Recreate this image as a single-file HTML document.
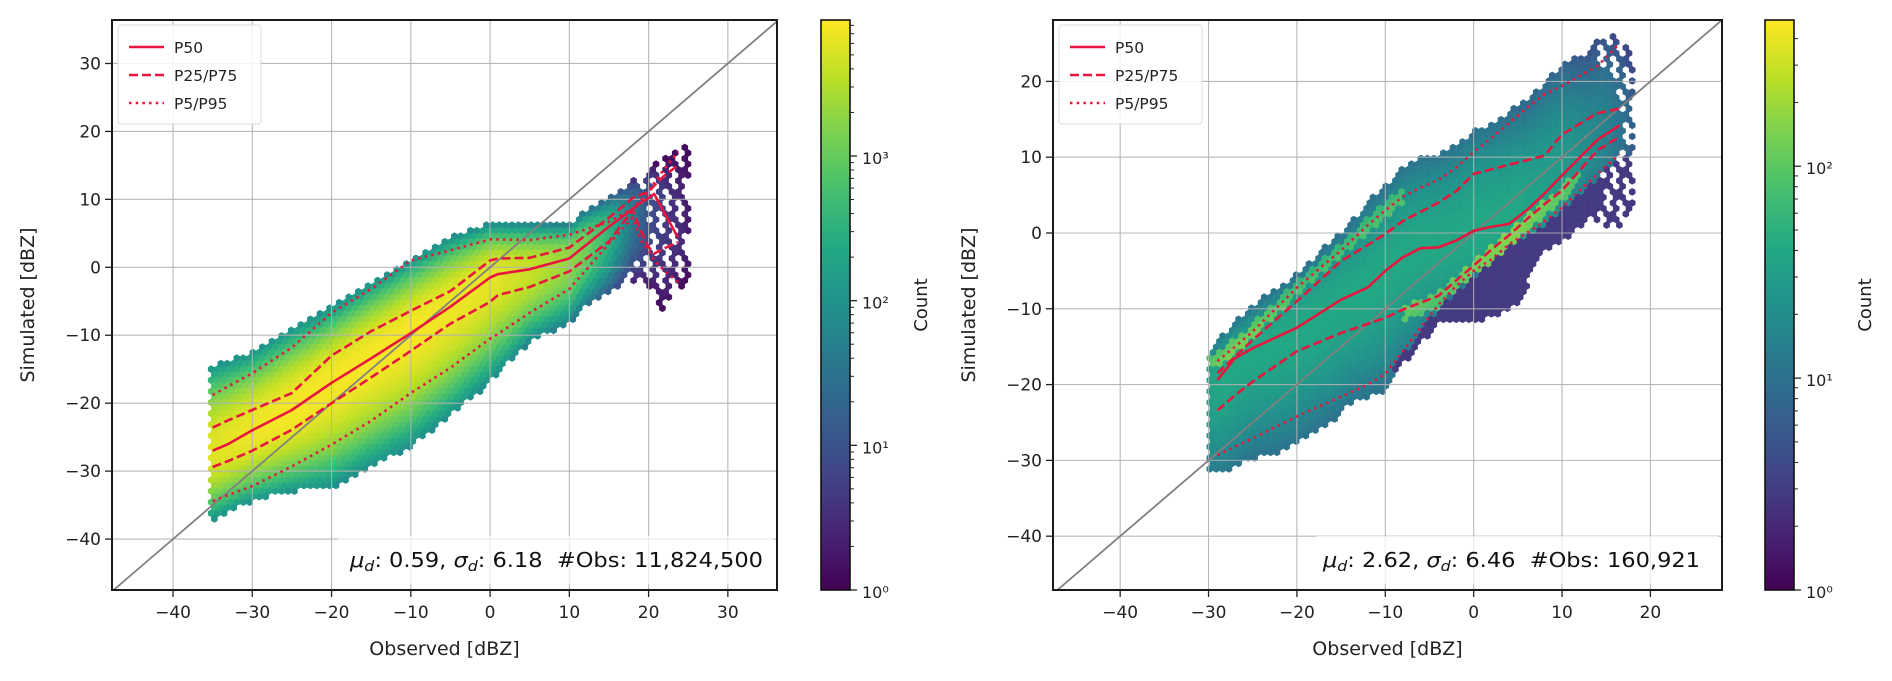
<!DOCTYPE html>
<html><head><meta charset="utf-8">
<style>
html,body{margin:0;padding:0;background:#fff;}
svg{display:block;font-family:"DejaVu Sans","Liberation Sans",sans-serif;}
</style></head>
<body>
<svg id="fig" width="1892" height="681" viewBox="0 0 1892 681" xmlns="http://www.w3.org/2000/svg">
<defs>
<linearGradient id="viridis" x1="0" y1="1" x2="0" y2="0">
<stop offset="0" stop-color="#440154"/><stop offset="0.1" stop-color="#482475"/><stop offset="0.2" stop-color="#414487"/><stop offset="0.3" stop-color="#355f8d"/><stop offset="0.4" stop-color="#2a788e"/><stop offset="0.5" stop-color="#21918c"/><stop offset="0.6" stop-color="#22a884"/><stop offset="0.7" stop-color="#44bf70"/><stop offset="0.8" stop-color="#7ad151"/><stop offset="0.9" stop-color="#bddf26"/><stop offset="1" stop-color="#fde725"/>
</linearGradient>
<clipPath id="clipL"><rect x="112" y="20" width="665" height="570"/></clipPath>
<clipPath id="clipR"><rect x="1053" y="20" width="669" height="570"/></clipPath>
</defs>
</svg>
<script>
// ===== Left panel data =====
const leftCloudX = [-35.5,-33,-30,-25,-20,-15,-10,-5,0,5,10,12,15,18,20,22,24,25];
const leftCloudHi = [-14.6,-13.7,-12.5,-9,-5.7,-2,1.3,4.5,6.4,6.4,6.4,8.5,10.5,13,14.5,16,17.5,18];
const leftCloudLo = [-37.5,-36,-34.5,-33,-32.5,-29.5,-26.5,-22,-17,-11,-8.5,-6,-4,-2,-3,-7,-3,-2];
const leftPeakLog = [3.75,3.8,3.85,3.9,3.9,3.9,3.9,3.85,3.8,3.6,3.3,3.1,2.6,1.6,1.0,0.7,0.5,0.3];
const leftEdgeLog = [2.0,2.0,2.0,2.0,1.9,1.9,1.9,1.9,1.9,1.8,1.6,1.4,1.0,0.4,0.2,0.1,0.1,0.1];
const leftPX  = [-35,-33,-30,-25,-20,-15,-10,-5,0,1,5,10,15,18,19,20,20.7,22,23.7];
const leftP50 = [-27,-26,-24,-21,-17,-13.4,-9.7,-5.8,-1.5,-1,-0.3,1.3,6,8.6,9.5,10.2,10.8,8,4.4];
const leftP75 = [-23.6,-22.5,-21,-18.5,-13,-9.4,-6.4,-3.5,1,1.3,1.4,2.9,7.3,10.2,10.7,11.1,12,13.5,15];
const leftP25 = [-29.4,-28.5,-27,-23.9,-20,-16.2,-12.3,-8.3,-5.1,-4.1,-2.9,-0.6,3.8,8.4,5.4,3,2,2.8,3.7];
const leftP95 = [-18.8,-17.5,-15.6,-11.8,-6.7,-3.2,1,2.5,4.1,4.1,4,4.8,6.7,8.7,9.9,11.1,12.4,14.5,17];
const leftP5  = [-34.4,-33.5,-32.2,-29.3,-26.1,-22.6,-18.5,-14.8,-10.5,-9.8,-6.7,-3.2,3.5,7.3,4,2.5,1,-0.5,-2.2];
const leftXTicks = [-40,-30,-20,-10,0,10,20,30];
const leftYTicks = [-40,-30,-20,-10,0,10,20,30];
const leftCbarDecades = [0,1,2,3];
const leftCbarMaxLog = 3.94;
const leftStats = ["0.59","6.18","11,824,500"];

// ===== Right panel data =====
const rightCloudX = [-30,-28.5,-27,-25,-22.5,-20,-18,-16,-14,-12,-10,-8,-6,-4,-2,0,2,4,5.2,6,8,10,13,15,17,18];
const rightCloudHi = [-15.2,-13.6,-11.6,-9.6,-7.4,-5.4,-3.2,-0.8,1.2,4.3,6.1,8.9,10,10.5,11.8,13.5,14.5,16,17,17.5,19.9,22.4,23.7,26.8,26,24];
const rightCloudLo = [-31.8,-31.5,-31.1,-29.8,-29.1,-28,-26.2,-24.9,-22.7,-21.8,-20.9,-17.4,-14.7,-12,-11.4,-11.6,-11.2,-9.9,-9.5,-7,-2.5,-1.5,2,0.7,1,4];
const rightPeakLog = [1.55,1.6,1.6,1.6,1.6,1.6,1.6,1.6,1.6,1.6,1.6,1.6,1.6,1.6,1.6,1.6,1.6,1.6,1.6,1.55,1.5,1.45,1.3,1.2,1.0,0.8];
const rightEdgeLog = [1.1,1.1,1.05,1.0,1.0,1.0,1.0,1.0,1.0,1.0,1.0,1.0,1.0,1.0,1.0,1.0,1.0,0.95,0.9,0.9,0.9,0.85,0.7,0.6,0.5,0.4];
const rightPX  = [-29,-27,-25,-20,-15,-12,-10,-8,-6,-4,-2,0,2,4,6,8,10,14,16.5];
const rightP50 = [-19.4,-16.5,-15.2,-12.5,-8.8,-7.2,-5,-3.2,-2,-1.9,-1,0.3,0.8,1.2,3,5.2,7.6,12.3,14.2];
const rightP75 = [-18.5,-16.3,-14.1,-9,-3.7,-1.6,-0.1,1.6,2.8,4,5.5,7.8,8.4,9,9.6,10.2,13,15.8,16.4];
const rightP25 = [-23.4,-21.4,-19.6,-15.6,-13.2,-12,-11.2,-10.1,-9.2,-8.3,-6.3,-4.3,-2.2,-0.3,1.8,3.8,5.6,10.9,12.7];
const rightP95 = [-16.9,-15,-13,-7.2,-2.3,1,3,4.8,6,7,8.6,10.7,12.5,14.5,16.5,18.3,19.4,22,25];
const rightP5  = [-29.3,-28.2,-27.1,-24.2,-21.6,-20,-18.6,-15.6,-12.5,-9.5,-7,-5,-3.5,-1.5,0,1.5,3.4,7.8,10.4];
const rightXTicks = [-40,-30,-20,-10,0,10,20];
const rightYTicks = [-40,-30,-20,-10,0,10,20];
const rightCbarDecades = [0,1,2];
const rightCbarMaxLog = 2.69;
const rightStats = ["2.62","6.46","160,921"];

const NS = "http://www.w3.org/2000/svg";
const svg = document.getElementById('fig');
function mk(tag, attrs, parent){
  const e = document.createElementNS(NS, tag);
  for (const k in attrs) e.setAttribute(k, attrs[k]);
  (parent||svg).appendChild(e);
  return e;
}
function interp(xs, ys, x){
  if (x <= xs[0]) return ys[0];
  if (x >= xs[xs.length-1]) return ys[ys.length-1];
  for (let i=1;i<xs.length;i++){
    if (x <= xs[i]){ const t=(x-xs[i-1])/(xs[i]-xs[i-1]); return ys[i-1]+t*(ys[i]-ys[i-1]); }
  }
}
const VIR = ["#440154","#482475","#414487","#355f8d","#2a788e","#21918c","#22a884","#44bf70","#7ad151","#bddf26","#fde725"];
function hex2rgb(h){return [parseInt(h.slice(1,3),16),parseInt(h.slice(3,5),16),parseInt(h.slice(5,7),16)];}
const VIRRGB = VIR.map(hex2rgb);
function viridis(t){
  t = Math.max(0, Math.min(1, t));
  const f = t*10, i = Math.min(9, Math.floor(f)), u = f - i;
  const a = VIRRGB[i], b = VIRRGB[i+1];
  return "rgb("+a.map((v,k)=>Math.round(v+u*(b[k]-v))).join(",")+")";
}
function supDigit(n){return ["⁰","¹","²","³","⁴"][n];}

function drawPanel(P){
  const sx = v => P.x0 + (v - P.xmin)/(P.xmax - P.xmin)*(P.x1 - P.x0);
  const sy = v => P.y1 - (v - P.ymin)/(P.ymax - P.ymin)*(P.y1 - P.y0);
  const ix = px => P.xmin + (px - P.x0)/(P.x1 - P.x0)*(P.xmax - P.xmin);
  const iy = py => P.ymin + (P.y1 - py)/(P.y1 - P.y0)*(P.ymax - P.ymin);

  const g = mk('g', {});
  
  

  // hexbin
  const hg = mk('g', {'clip-path': 'url(#' + P.clip + ')'}, g);
  
  
  const hs = 6.4, r = hs/Math.sqrt(3), vs = 1.5*r;
  let pts = [];
  for (let k=0;k<6;k++){ const a = Math.PI/180*(60*k-30); pts.push([r*Math.cos(a)*1.04, r*Math.sin(a)*1.04]); }
  let j = 0;
  for (let py = P.y0; py <= P.y1 + r; py += vs, j++){
    const off = (j % 2) ? hs/2 : 0;
    let i = 0;
    for (let px = P.x0 + off; px <= P.x1 + hs; px += hs, i++){
      const xv = ix(px), yv = iy(py);
      if (xv < P.cloudX[0] || xv > P.cloudX[P.cloudX.length-1]) continue;
      const lo = interp(P.cloudX, P.cloudLo, xv), hi = interp(P.cloudX, P.cloudHi, xv);
      if (yv < lo || yv > hi) continue;
      const med = Math.min(hi, Math.max(lo, interp(P.pX, P.p50, xv)));
      const peak = interp(P.cloudX, P.peak, xv), edge = interp(P.cloudX, P.edge, xv);
      let d = yv >= med ? (yv - med)/Math.max(0.5, hi - med) : (med - yv)/Math.max(0.5, med - lo);
      d = Math.min(1, d);
      let lc = peak + (edge - peak)*Math.pow(d, P.expo);
      if (P.streaks){
        const p5v = interp(P.pX, P.p5, xv), p25v = interp(P.pX, P.p25, xv), p95v = interp(P.pX, P.p95, xv);
        if (yv < p5v - 0.5 && xv > -9) lc = Math.min(lc, 0.45);
        if (xv < -8 && Math.abs(yv - p95v) < 1.0) lc += 0.55;
        if (xv > -8 && xv < 12 && Math.abs(yv - p25v + 0.6) < 1.0) lc += 0.6;
      }
      if (P.sparse && xv > 14 && lc < 1.0 && ((i*7 + j*3) % 5) < 2) continue;
      const poly = mk('polygon', {points: pts.map(p => (px+p[0]).toFixed(1)+','+(py+p[1]).toFixed(1)).join(' '), fill: viridis(lc / P.cmaxLog)}, hg);
      
      
    }
  }

  // grid
  const gg = mk('g', {stroke: '#b0b0b0', 'stroke-width': 1.1, 'stroke-opacity': 0.9}, g);
  
  
  P.xticks.forEach(v => { mk('line', {x1: sx(v), x2: sx(v), y1: P.y0, y2: P.y1}, gg); });
  P.yticks.forEach(v => { mk('line', {x1: P.x0, x2: P.x1, y1: sy(v), y2: sy(v)}, gg); });

  // diagonal
  const lim0 = Math.max(P.xmin, P.ymin), lim1 = Math.min(P.xmax, P.ymax);
  const diag = mk('line', {x1: sx(lim0), y1: sy(lim0), x2: sx(lim1), y2: sy(lim1), stroke: '#808080', 'stroke-width': 1.8, 'clip-path': 'url(#' + P.clip + ')'}, g);
  
  

  // percentile lines
  const red = '#e8163f';
  const series = [
    {v: P.p50, dash: null, n: 'p50-line'},
    {v: P.p75, dash: '9,4', n: 'p75-line'},
    {v: P.p25, dash: '9,4', n: 'p25-line'},
    {v: P.p95, dash: '2.5,4.2', n: 'p95-line'},
    {v: P.p5,  dash: '2.5,4.2', n: 'p5-line'}
  ];
  series.forEach(s => {
    const d = s.v.map((y,i) => (i ? 'L' : 'M') + sx(P.pX[i]).toFixed(1) + ',' + sy(y).toFixed(1)).join('');
    const a = {d: d, fill: 'none', stroke: red, 'stroke-width': 2.6, 'stroke-linejoin': 'round'};
    if (s.dash) a['stroke-dasharray'] = s.dash;
    const p = mk('path', a, g);
    
    
  });

  // stats annotation
  const ab = mk('rect', {x: P.annX0, y: 536, width: P.x1 - 4 - P.annX0, height: 48, fill: '#fff', 'fill-opacity': 0.7}, g);
  
  
  const at = mk('text', {x: P.annTx, y: 567, 'font-size': 20, fill: '#111', textLength: P.annW, lengthAdjust: 'spacingAndGlyphs', style: 'white-space:pre;font-family:"DejaVu Sans Condensed","DejaVu Sans",sans-serif'}, g);
  
  
  at.innerHTML = '<tspan font-style="italic">μ</tspan><tspan font-style="italic" font-size="14" dy="4">d</tspan><tspan dy="-4">: ' + P.stats[0] + ', </tspan><tspan font-style="italic">σ</tspan><tspan font-style="italic" font-size="14" dy="4">d</tspan><tspan dy="-4">: ' + P.stats[1] + '  #Obs: ' + P.stats[2] + '</tspan>';

  // legend
  const lg = mk('g', {}, g);
  
  
  mk('rect', {x: P.x0 + 6, y: 25, width: 143, height: 99, rx: 3, fill: '#fff', 'fill-opacity': 0.85, stroke: '#dddddd'}, lg);
  const items = [['P50', null], ['P25/P75', '9,4'], ['P5/P95', '2.5,4.2']];
  items.forEach((it, i) => {
    const yy = 47 + i*28;
    const la = {x1: P.x0 + 17, x2: P.x0 + 52, y1: yy, y2: yy, stroke: red, 'stroke-width': 2.6};
    if (it[1]) la['stroke-dasharray'] = it[1];
    const ln = mk('line', la, lg);
    
    
    const tx = mk('text', {x: P.x0 + 62, y: yy + 6, 'font-size': 15.5, fill: '#222'}, lg);
    tx.textContent = it[0];
    
    
  });

  // axes frame
  const fr = mk('rect', {x: P.x0, y: P.y0, width: P.x1 - P.x0, height: P.y1 - P.y0, fill: 'none', stroke: '#1a1a1a', 'stroke-width': 2}, g);
  
  

  // ticks
  const tg = mk('g', {'font-size': 17, fill: '#222'}, g);
  
  
  P.xticks.forEach(v => {
    mk('line', {x1: sx(v), x2: sx(v), y1: P.y1, y2: P.y1 + 7, stroke: '#222', 'stroke-width': 1.3}, tg);
    const t = mk('text', {x: sx(v), y: P.y1 + 28, 'text-anchor': 'middle'}, tg);
    t.textContent = v < 0 ? '−' + Math.abs(v) : String(v);
    
    
  });
  P.yticks.forEach(v => {
    mk('line', {x1: P.x0 - 7, x2: P.x0, y1: sy(v), y2: sy(v), stroke: '#222', 'stroke-width': 1.3}, tg);
    const t = mk('text', {x: P.x0 - 11, y: sy(v) + 6, 'text-anchor': 'end'}, tg);
    t.textContent = v < 0 ? '−' + Math.abs(v) : String(v);
    
    
  });
  const xt = mk('text', {x: (P.x0 + P.x1)/2, y: 655, 'text-anchor': 'middle', 'font-size': 19, fill: '#222'}, g);
  xt.textContent = 'Observed [dBZ]';
  
  
  const yt = mk('text', {x: 0, y: 0, 'text-anchor': 'middle', 'font-size': 19, fill: '#222', transform: 'translate(' + (P.x0 - 78) + ',305) rotate(-90)'}, g);
  yt.textContent = 'Simulated [dBZ]';
  
  

  // colorbar
  const cg = mk('g', {}, g);
  
  
  const cy = lv => P.y1 - lv / P.cmaxLog * (P.y1 - P.y0);
  mk('rect', {x: P.cbX, y: P.y0, width: 29, height: P.y1 - P.y0, fill: 'url(#viridis)', stroke: '#111', 'stroke-width': 1.6}, cg);
  const cr = P.cbX + 29;
  P.decades.forEach(dv => {
    mk('line', {x1: cr, x2: cr + 7, y1: cy(dv), y2: cy(dv), stroke: '#222', 'stroke-width': 1.3}, cg);
    const t = mk('text', {x: cr + 12, y: cy(dv) + 8, 'font-size': 16, fill: '#222'}, cg);
    t.textContent = '10' + supDigit(dv);
    
    
    for (let m = 2; m <= 9; m++){
      const lv = dv + Math.log10(m);
      if (lv > P.cmaxLog) break;
      mk('line', {x1: cr, x2: cr + 4, y1: cy(lv), y2: cy(lv), stroke: '#222', 'stroke-width': 1}, cg);
    }
  });
  const ct = mk('text', {x: 0, y: 0, 'text-anchor': 'middle', 'font-size': 18, fill: '#222', transform: 'translate(' + (cr + 77) + ',305) rotate(-90)'}, cg);
  ct.textContent = 'Count';
  
  
}

drawPanel({name: 'left', clip: 'clipL', x0: 112, x1: 777, y0: 20, y1: 590,
  xmin: -47.7, xmax: 36.2, ymin: -47.5, ymax: 36.4,
  cloudX: leftCloudX, cloudLo: leftCloudLo, cloudHi: leftCloudHi, peak: leftPeakLog, edge: leftEdgeLog, expo: 2.2,
  pX: leftPX, p50: leftP50, p75: leftP75, p25: leftP25, p95: leftP95, p5: leftP5,
  xticks: leftXTicks, yticks: leftYTicks, decades: leftCbarDecades, cmaxLog: leftCbarMaxLog,
  stats: leftStats, annX0: 338, annTx: 350, annW: 413, cbX: 821, sparse: true});
drawPanel({name: 'right', clip: 'clipR', x0: 1053, x1: 1722, y0: 20, y1: 590,
  xmin: -47.6, xmax: 28.1, ymin: -47.1, ymax: 28.1,
  cloudX: rightCloudX, cloudLo: rightCloudLo, cloudHi: rightCloudHi, peak: rightPeakLog, edge: rightEdgeLog, expo: 2.0,
  pX: rightPX, p50: rightP50, p75: rightP75, p25: rightP25, p95: rightP95, p5: rightP5,
  xticks: rightXTicks, yticks: rightYTicks, decades: rightCbarDecades, cmaxLog: rightCbarMaxLog,
  stats: rightStats, annX0: 1316, annTx: 1323, annW: 377, cbX: 1765, streaks: true, sparse: true});
</script>
</body></html>
